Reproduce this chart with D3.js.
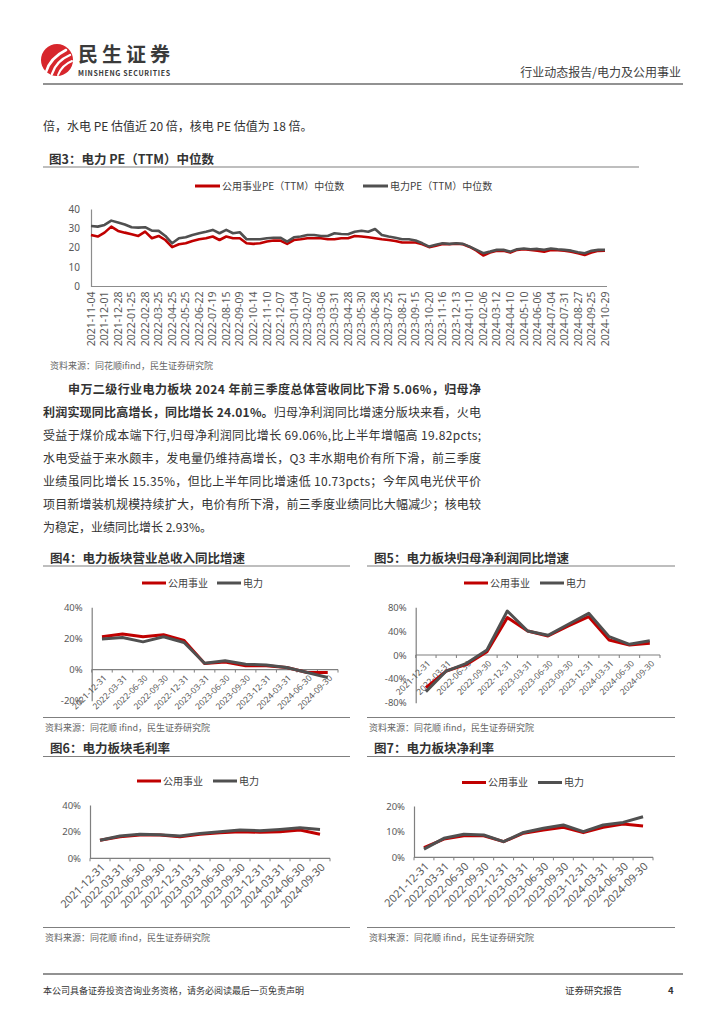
<!DOCTYPE html>
<html><head><meta charset="utf-8">
<script src="https://cdn.jsdelivr.net/npm/d3@7"></script>
<style>body{margin:0;background:#fff}svg text{font-family:"Noto Sans CJK SC","Noto Sans",sans-serif}</style>
</head><body><svg id="page" width="724" height="1024"></svg>
<script>
// ---------- DATA ----------
const peTickLabels = ["2021-11-04","2021-12-01","2021-12-28","2022-01-25","2022-02-28","2022-03-25","2022-04-25","2022-05-25","2022-06-22","2022-07-19","2022-08-15","2022-09-09","2022-10-14","2022-11-10","2022-12-07","2023-01-04","2023-02-07","2023-03-06","2023-03-31","2023-04-28","2023-05-30","2023-06-28","2023-07-25","2023-08-21","2023-09-15","2023-10-20","2023-11-16","2023-12-13","2024-01-10","2024-02-06","2024-03-12","2024-04-10","2024-05-10","2024-06-06","2024-07-04","2024-07-31","2024-08-27","2024-09-25","2024-10-29"];
// sampled twice per tick interval
const peUtility = [26.6,25.8,27.8,30.9,28.7,27.8,27.0,26.1,28.3,24.9,26.1,24.0,20.3,21.8,22.3,23.5,24.4,24.9,25.8,24.0,25.8,24.9,24.9,22.3,22.0,22.3,23.2,23.7,23.7,22.0,24.0,24.4,24.9,24.9,24.9,24.4,24.4,24.9,24.9,26.1,25.8,25.4,24.9,24.4,24.0,23.5,22.7,22.7,22.7,21.8,20.3,21.1,22.0,21.8,22.1,21.8,20.4,18.5,16.0,17.5,18.4,18.5,17.5,18.9,19.2,18.9,18.5,17.9,18.9,18.7,18.5,18.0,17.2,16.3,17.5,18.4,18.5];
const pePower = [31.2,30.9,31.8,34.0,33.0,32.0,30.6,30.4,30.6,28.8,28.7,26.1,22.3,24.9,25.4,26.6,27.5,28.3,29.2,27.5,29.2,27.5,28.0,24.4,24.4,24.4,24.9,25.2,25.2,23.2,25.4,25.8,26.6,26.6,26.1,26.1,27.5,27.1,27.0,28.3,28.8,28.3,29.7,26.6,25.8,25.2,24.4,24.4,23.7,22.3,20.6,21.5,22.3,22.0,22.3,22.0,20.6,18.9,17.2,18.0,18.9,18.9,18.0,19.2,19.6,19.2,19.4,18.9,19.6,19.2,18.9,18.5,17.7,17.2,18.4,18.9,18.9];
const peTicks = [0,10,20,30,40];
const peSeriesNames = ["公用事业PE（TTM）中位数","电力PE（TTM）中位数"];

const quarters = ["2021-12-31","2022-03-31","2022-06-30","2022-09-30","2022-12-31","2023-03-31","2023-06-30","2023-09-30","2023-12-31","2024-03-31","2024-06-30","2024-09-30"];
const seriesNames = ["公用事业","电力"];
const revUtility = [21.1,22.8,21.1,22.4,18.7,3.9,4.9,2.4,2.4,1.3,-1.9,-1.9];
const revPower   = [19.6,20.6,17.8,21.1,17.4,4.1,5.6,3.4,3.0,1.3,-1.9,-5.1];
const revTicks = [-20,0,20,40];
const npUtility = [-54.8,-26.9,-15.7,5.6,62.7,40.3,31.9,48.7,64.3,25.2,16.8,19.6];
const npPower   = [-61.5,-26.9,-14.0,8.4,73.8,40.3,33.0,51.5,69.9,30.8,17.9,24.0];
const npTicks = [-80,-40,0,40,80];
const gmUtility = [13.5,16.2,17.5,17.5,16.2,18.0,19.2,20.0,19.5,20.0,21.2,18.0];
const gmPower   = [13.5,16.7,18.0,17.7,16.7,18.7,20.0,21.2,20.7,21.7,23.0,21.7];
const gmTicks = [0,20,40];
const nmUtility = [3.8,7.1,8.4,8.4,6.1,9.4,10.6,11.7,9.6,11.7,13.0,12.2];
const nmPower   = [3.2,7.4,9.0,8.7,6.1,9.7,11.3,12.6,10.0,12.6,13.6,15.8];
const nmTicks = [0,10,20];

const RED = "#c00000", GRAY = "#505050";
const svg = d3.select("#page");
const txt = (x,y,s,o={}) => svg.append("text").attr("x",x).attr("y",y).text(s)
  .attr("font-size",o.size||12).attr("fill",o.fill||"#333").attr("font-weight",o.bold?"bold":null)
  .attr("text-anchor",o.anchor||"start");
const hline = (x1,x2,y,c="#7f7f7f",w=1.2) => svg.append("line").attr("x1",x1).attr("x2",x2).attr("y1",y).attr("y2",y).attr("stroke",c).attr("stroke-width",w);

// ---------- HEADER ----------
svg.append("circle").attr("cx",57).attr("cy",60).attr("r",16).attr("fill","#d7262c");
[["M46,72 Q50,58 66,50",2.6],["M52,74 Q56,61 70,55",2.4],["M58,75 Q62,65 72,61",2]].forEach(([d,w])=>
  svg.append("path").attr("d",d).attr("fill","none").attr("stroke","#fff").attr("stroke-width",w).attr("stroke-linecap","round"));
txt(78,62,"民生证券",{size:20,bold:true,fill:"#3a3a3a"}).attr("textLength",92);
txt(78,75.5,"MINSHENG SECURITIES",{size:7,bold:true,fill:"#3a3a3a"}).attr("textLength",92);
txt(681,77,"行业动态报告/电力及公用事业",{size:12,anchor:"end",fill:"#404040"});
hline(43,683,84,"#6e6e6e",1.5);

// ---------- BODY LINE ----------
txt(43,131,"倍，水电 PE 估值近 20 倍，核电 PE 估值为 18 倍。",{size:12,fill:"#333"});

// ---------- FIG 3 ----------
txt(49,163.5,"图3：电力 PE（TTM）中位数",{size:12.5,bold:true,fill:"#333"});
hline(43,639,167);
{
  const x = d3.scaleLinear().domain([0,peUtility.length-1]).range([91,605]);
  const y = d3.scaleLinear().domain([0,40]).range([286.5,209]);
  const ly = 186;
  [[195,RED,peSeriesNames[0]],[363,GRAY,peSeriesNames[1]]].forEach(([lx,c,n])=>{
    svg.append("line").attr("x1",lx).attr("x2",lx+25).attr("y1",ly).attr("y2",ly).attr("stroke",c).attr("stroke-width",3);
    txt(lx+27,ly+3.5,n,{size:10,fill:"#404040"});
  });
  const ya = d3.axisLeft(y).tickValues(peTicks).tickSize(0).tickPadding(11);
  const gy = svg.append("g").attr("transform","translate(91,0)").call(ya);
  gy.select(".domain").attr("stroke","#8c8c8c").attr("stroke-width",1.2);
  gy.selectAll("text").attr("font-size",10).attr("fill","#595959").style("font-family",'"Noto Sans",sans-serif');
  hline(91,607,y(0),"#8c8c8c",1.2);
  peTickLabels.forEach((l,i)=>{
    svg.append("text").attr("transform",`translate(${x(i*2)},${y(0)+5}) rotate(-90)`)
      .attr("text-anchor","end").attr("dy","0.35em").attr("font-size",10.5).attr("fill","#595959")
      .style("font-family",'"Noto Sans",sans-serif').text(l);
  });
  const line = d3.line().x((d,i)=>x(i)).y(d=>y(d));
  svg.append("path").datum(peUtility).attr("d",line).attr("fill","none").attr("stroke",RED).attr("stroke-width",2.6).attr("stroke-linejoin","round");
  svg.append("path").datum(pePower).attr("d",line).attr("fill","none").attr("stroke",GRAY).attr("stroke-width",2.6).attr("stroke-linejoin","round");
  txt(50,369,"资料来源：同花顺ifind，民生证券研究院",{size:9,fill:"#666"});
}

// ---------- PARAGRAPH ----------
const para = [
  [[ "申万二级行业电力板块 2024 年前三季度总体营收同比下滑 5.06%，归母净",true]],
  [[ "利润实现同比高增长，同比增长 24.01%。",true],["归母净利润同比增速分版块来看，火电",false]],
  [[ "受益于煤价成本端下行,归母净利润同比增长 69.06%,比上半年增幅高 19.82pcts;",false]],
  [[ "水电受益于来水颇丰，发电量仍维持高增长，Q3 丰水期电价有所下滑，前三季度",false]],
  [[ "业绩虽同比增长 15.35%，但比上半年同比增速低 10.73pcts；今年风电光伏平价",false]],
  [[ "项目新增装机规模持续扩大，电价有所下滑，前三季度业绩同比大幅减少；核电较",false]],
  [[ "为稳定，业绩同比增长 2.93%。",false]]
];
para.forEach((segs,i)=>{
  const x0 = i===0 ? 68 : 43;
  const t = svg.append("text").attr("x",x0).attr("y",394+i*23).attr("font-size",12).attr("fill","#333");
  segs.forEach(([s,b])=>t.append("tspan").attr("font-weight",b?"bold":null).text(s));
  if (i < para.length-1) t.attr("textLength",481-x0).attr("lengthAdjust","spacing");
});

// ---------- SMALL CHARTS ----------
function smallChart(o){
  txt(o.colX0+7,o.titleY,o.title,{size:12.5,bold:true,fill:"#333"});
  hline(o.colX0,o.colX1,o.titleY+3.5);
  [[o.leg[0],RED,seriesNames[0]],[o.leg[1],GRAY,seriesNames[1]]].forEach(([lx,c,n])=>{
    svg.append("line").attr("x1",lx).attr("x2",lx+24).attr("y1",o.legY).attr("y2",o.legY).attr("stroke",c).attr("stroke-width",3);
    txt(lx+26,o.legY+3.5,n,{size:10,fill:"#404040"});
  });
  const x = d3.scaleBand().domain(quarters).range([o.left,o.right]);
  const y = d3.scaleLinear().domain(o.domain).range([o.bottom,o.top]);
  const ya = d3.axisLeft(y).tickValues(o.ticks).tickSize(0).tickSizeOuter(0).tickPadding(9).tickFormat(d=>d+"%");
  const gy = svg.append("g").attr("transform",`translate(${o.left},0)`).call(ya);
  gy.select(".domain").attr("stroke","#7f7f7f").attr("stroke-width",1.2);
  gy.selectAll("text").attr("font-size",9.5).attr("fill","#595959").style("font-family",'"Noto Sans",sans-serif');
  const y0 = y(0);
  hline(o.left,o.right,y0,"#7f7f7f",1.2);
  quarters.concat([null]).forEach(q=>{
    const tx = q===null ? o.right : x(q);
    svg.append("line").attr("x1",tx).attr("x2",tx).attr("y1",y0).attr("y2",y0+3).attr("stroke","#7f7f7f").attr("stroke-width",1);
  });
  const cx = q => x(q)+x.bandwidth()/2;
  quarters.forEach(q=>{
    svg.append("text").attr("transform",`translate(${cx(q)+3},${y0+7}) rotate(-45)`)
      .attr("text-anchor","end").attr("dy","0.35em").attr("font-size",o.xFont).attr("fill","#595959")
      .style("font-family",'"Noto Sans",sans-serif').text(q);
  });
  const line = d3.line().x((d,i)=>cx(quarters[i])).y(d=>y(d));
  svg.append("path").datum(o.a).attr("d",line).attr("fill","none").attr("stroke",RED).attr("stroke-width",3).attr("stroke-linejoin","round");
  svg.append("path").datum(o.b).attr("d",line).attr("fill","none").attr("stroke",GRAY).attr("stroke-width",3).attr("stroke-linejoin","round");
  hline(o.colX0,o.colX1,o.srcLineY);
  txt(o.colX0+2,o.srcLineY+13,"资料来源：同花顺 ifind，民生证券研究院",{size:9,fill:"#666"});
}
smallChart({title:"图4：电力板块营业总收入同比增速",colX0:43,colX1:350,titleY:562.5,legY:583,leg:[142,217],
  left:91.7,right:338,domain:[-20,40],top:607.3,bottom:700.7,ticks:revTicks,a:revUtility,b:revPower,xFont:8.5,srcLineY:717.5});
smallChart({title:"图5：电力板块归母净利润同比增速",colX0:367,colX1:675,titleY:562.5,legY:583,leg:[464,540],
  left:415.7,right:660,domain:[-80,80],top:607.3,bottom:702.7,ticks:npTicks,a:npUtility,b:npPower,xFont:8.5,srcLineY:717.5});
smallChart({title:"图6：电力板块毛利率",colX0:43,colX1:350,titleY:753,legY:781,leg:[137,213],
  left:90,right:330,domain:[0,40],top:805,bottom:858.3,ticks:gmTicks,a:gmUtility,b:gmPower,xFont:11,srcLineY:927.5});
smallChart({title:"图7：电力板块净利率",colX0:367,colX1:675,titleY:753,legY:782.5,leg:[462,538],
  left:414,right:653,domain:[0,20],top:806,bottom:857.3,ticks:nmTicks,a:nmUtility,b:nmPower,xFont:11,srcLineY:927.5});

// ---------- FOOTER ----------
hline(43,683,974,"#6e6e6e",1.5);
txt(43,994,"本公司具备证券投资咨询业务资格，请务必阅读最后一页免责声明",{size:9,fill:"#333"});
txt(565,994,"证券研究报告",{size:9.5,fill:"#333"});
txt(668,994,"4",{size:9.5,bold:true,fill:"#333"});
</script></body></html>
